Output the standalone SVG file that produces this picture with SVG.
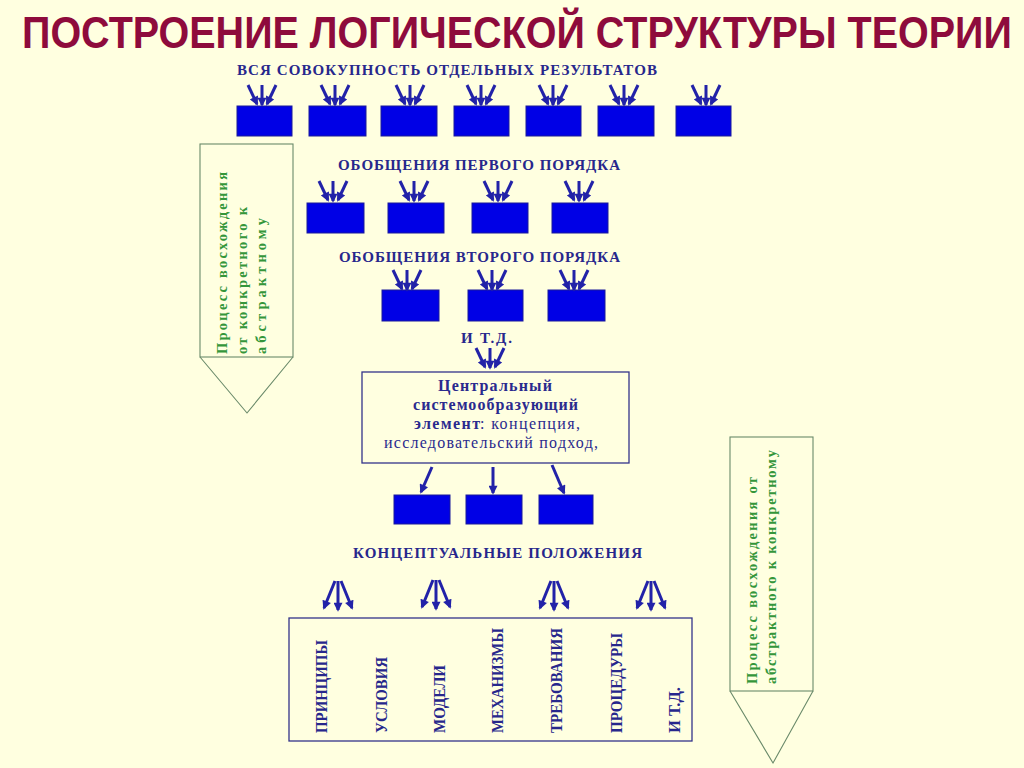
<svg xmlns="http://www.w3.org/2000/svg" xmlns:xlink="http://www.w3.org/1999/xlink" width="1024" height="768" viewBox="0 0 1024 768">
<defs>
<style>
.title{font-family:"Liberation Sans Narrow","Liberation Sans",Arial,sans-serif;font-weight:bold;font-size:45px;fill:#8E0B3C}
.hd{font-family:"Liberation Serif","Times New Roman",serif;font-weight:bold;font-size:15px;fill:#27278C}
.ct{font-family:"Liberation Serif","Times New Roman",serif;font-size:16px;fill:#2A2A8E}
.ctb{font-weight:bold}
.vt{font-family:"Liberation Serif","Times New Roman",serif;font-weight:bold;font-size:17px;fill:#27278C}
.gt{font-family:"Liberation Serif","Times New Roman",serif;font-weight:bold;font-size:14.5px;fill:#34963A}
.blk{fill:#0000E6;stroke:#1A1A9A;stroke-width:1}
.frame{fill:none;stroke:#33338A;stroke-width:1.3}
.pen{fill:none;stroke:#6A8A6A;stroke-width:1.1}
.arr{stroke:#2222A8;stroke-width:3;fill:none;marker-end:url(#ah)}
</style>
<marker id="ah" viewBox="0 0 10 10" refX="8" refY="5" markerWidth="10" markerHeight="9" markerUnits="userSpaceOnUse" orient="auto">
<path d="M0,0 L10,5 L0,10 z" fill="#2222A8"/>
</marker>
<g id="conv">
<line class="arr" x1="-14" y1="0" x2="-5" y2="19"/>
<line class="arr" x1="0" y1="0" x2="0" y2="20"/>
<line class="arr" x1="14" y1="0" x2="5" y2="19"/>
</g>
<g id="div">
<line class="arr" x1="-3" y1="0" x2="-14" y2="27"/>
<line class="arr" x1="0" y1="0" x2="0" y2="29"/>
<line class="arr" x1="3" y1="0" x2="14" y2="27"/>
</g>
</defs>
<rect x="0" y="0" width="1024" height="768" fill="#FFFFE0"/>

<text class="title" transform="translate(22,48) scale(0.86,1)" textLength="1151" lengthAdjust="spacingAndGlyphs">ПОСТРОЕНИЕ ЛОГИЧЕСКОЙ СТРУКТУРЫ ТЕОРИИ</text>

<g id="labels">
<text class="hd" x="237" y="75" textLength="420" lengthAdjust="spacing">ВСЯ СОВОКУПНОСТЬ ОТДЕЛЬНЫХ РЕЗУЛЬТАТОВ</text>
<text class="hd" x="338" y="170" textLength="282" lengthAdjust="spacing">ОБОБЩЕНИЯ ПЕРВОГО ПОРЯДКА</text>
<text class="hd" x="339" y="262" textLength="281" lengthAdjust="spacing">ОБОБЩЕНИЯ ВТОРОГО ПОРЯДКА</text>
<text class="hd" x="461" y="343" textLength="51" lengthAdjust="spacing">И Т.Д.</text>
<text class="hd" x="353" y="558" textLength="289" lengthAdjust="spacing">КОНЦЕПТУАЛЬНЫЕ ПОЛОЖЕНИЯ</text>
</g>

<g id="row1">
<rect class="blk" x="237" y="106" width="55" height="30"/>
<rect class="blk" x="309" y="106" width="57" height="30"/>
<rect class="blk" x="381" y="106" width="56" height="30"/>
<rect class="blk" x="454" y="106" width="55" height="30"/>
<rect class="blk" x="526" y="106" width="55" height="30"/>
<rect class="blk" x="598" y="106" width="56" height="30"/>
<rect class="blk" x="676" y="106" width="55" height="30"/>
</g>
<g id="row2">
<rect class="blk" x="307" y="203" width="57" height="30"/>
<rect class="blk" x="388" y="203" width="56" height="30"/>
<rect class="blk" x="472" y="203" width="56" height="30"/>
<rect class="blk" x="552" y="203" width="56" height="30"/>
</g>
<g id="row3">
<rect class="blk" x="382" y="290" width="57" height="31"/>
<rect class="blk" x="468" y="290" width="55" height="31"/>
<rect class="blk" x="548" y="290" width="57" height="31"/>
</g>

<g id="central">
<rect class="frame" x="362" y="372" width="267" height="91"/>
<text class="ct ctb" x="438" y="391" textLength="114" lengthAdjust="spacing">Центральный</text>
<text class="ct ctb" x="413" y="410" textLength="165" lengthAdjust="spacing">системообразующий</text>
<text class="ct ctb" x="414" y="429" textLength="66" lengthAdjust="spacing">элемент</text>
<text class="ct" x="480" y="429" textLength="100" lengthAdjust="spacing">: концепция,</text>
<text class="ct" x="384" y="448" textLength="214" lengthAdjust="spacing">исследовательский подход,</text>
</g>

<g id="row4">
<rect class="blk" x="394" y="495" width="56" height="29"/>
<rect class="blk" x="466" y="495" width="56" height="29"/>
<rect class="blk" x="539" y="495" width="54" height="29"/>
</g>

<g id="positions">
<rect class="frame" x="289" y="618" width="403" height="123"/>
<text class="vt" transform="translate(327,733) rotate(-90)" textLength="93" lengthAdjust="spacingAndGlyphs">ПРИНЦИПЫ</text>
<text class="vt" transform="translate(387,733) rotate(-90)" textLength="76" lengthAdjust="spacingAndGlyphs">УСЛОВИЯ</text>
<text class="vt" transform="translate(445,733) rotate(-90)" textLength="68" lengthAdjust="spacingAndGlyphs">МОДЕЛИ</text>
<text class="vt" transform="translate(503,733) rotate(-90)" textLength="105" lengthAdjust="spacingAndGlyphs">МЕХАНИЗМЫ</text>
<text class="vt" transform="translate(562,733) rotate(-90)" textLength="105" lengthAdjust="spacingAndGlyphs">ТРЕБОВАНИЯ</text>
<text class="vt" transform="translate(622,733) rotate(-90)" textLength="100" lengthAdjust="spacingAndGlyphs">ПРОЦЕДУРЫ</text>
<text class="vt" transform="translate(680,733) rotate(-90)" textLength="46" lengthAdjust="spacingAndGlyphs">И Т.Д.</text>
</g>

<g id="ascent-left">
<rect class="pen" x="200" y="144" width="93" height="213"/>
<polyline class="pen" points="200,357 247,413 293,357"/>
<text class="gt" transform="translate(227,354) rotate(-90)" textLength="182" lengthAdjust="spacing">Процесс восхождения</text>
<text class="gt" transform="translate(247,354) rotate(-90)" textLength="147" lengthAdjust="spacing">от конкретного к</text>
<text class="gt" transform="translate(266,354) rotate(-90)" textLength="136" lengthAdjust="spacing">абстрактному</text>
</g>

<g id="ascent-right">
<rect class="pen" x="730" y="437" width="83" height="254"/>
<polyline class="pen" points="730,691 773,763 813,691"/>
<text class="gt" transform="translate(757,684) rotate(-90)" textLength="207" lengthAdjust="spacing">Процесс восхождения от</text>
<text class="gt" transform="translate(776,684) rotate(-90)" textLength="234" lengthAdjust="spacing">абстрактного к конкретному</text>
</g>

<g id="connectors">
<use xlink:href="#conv" transform="translate(262,85)"/>
<use xlink:href="#conv" transform="translate(335,85)"/>
<use xlink:href="#conv" transform="translate(410,85)"/>
<use xlink:href="#conv" transform="translate(481,85)"/>
<use xlink:href="#conv" transform="translate(553,85)"/>
<use xlink:href="#conv" transform="translate(624,85)"/>
<use xlink:href="#conv" transform="translate(706,85)"/>
<use xlink:href="#conv" transform="translate(333,181)"/>
<use xlink:href="#conv" transform="translate(414,181)"/>
<use xlink:href="#conv" transform="translate(498,181)"/>
<use xlink:href="#conv" transform="translate(579,181)"/>
<use xlink:href="#conv" transform="translate(407,270)"/>
<use xlink:href="#conv" transform="translate(492,270)"/>
<use xlink:href="#conv" transform="translate(574,270)"/>
<use xlink:href="#conv" transform="translate(490,348)"/>
<line class="arr" x1="432" y1="467" x2="421" y2="492"/>
<line class="arr" x1="493" y1="467" x2="493" y2="493"/>
<line class="arr" x1="552" y1="465" x2="564" y2="493"/>
<use xlink:href="#div" transform="translate(338,581)"/>
<use xlink:href="#div" transform="translate(436,580)"/>
<use xlink:href="#div" transform="translate(554,581)"/>
<use xlink:href="#div" transform="translate(651,581)"/>
</g>
</svg>
